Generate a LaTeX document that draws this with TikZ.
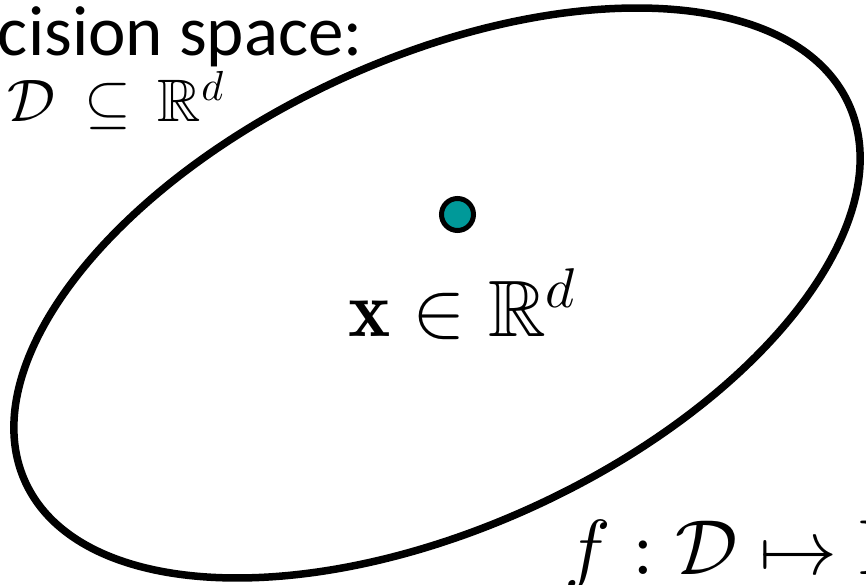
\documentclass[tikz,border=0pt]{standalone}
\usepackage{amsmath,amssymb}
\usepackage{fontspec}
\newfontfamily\labelfont{Carlito}
\usetikzlibrary{positioning}
\DeclareFontShape{OT1}{cmr}{m}{n}{<->cmr10}{}
\DeclareFontShape{OT1}{cmr}{bx}{n}{<->cmbx10}{}
\DeclareFontShape{OML}{cmm}{m}{it}{<->cmmi10}{}
\DeclareFontShape{OML}{cmm}{b}{it}{<->cmmib10}{}
\DeclareFontShape{OMS}{cmsy}{m}{n}{<->cmsy10}{}
\DeclareFontShape{OMS}{cmsy}{b}{n}{<->cmbsy10}{}
\DeclareFontShape{OMX}{cmex}{m}{n}{<->cmex10}{}
\definecolor{c1}{HTML}{000000}
\definecolor{c2}{HTML}{009999}

\begin{document}
\begin{tikzpicture}[
    x=1pt, y=1pt,
    every node/.style={inner sep=0pt, outer sep=0pt},
    lab/.style={font=\labelfont\fontsize{71}{85}\selectfont, text=c1},
    setlab/.style={font=\fontsize{60}{72}\selectfont, text=c1},
    ptlab/.style={font=\fontsize{80}{96}\selectfont, text=c1},
    maplab/.style={font=\fontsize{78}{94}\selectfont, text=c1},
    dot/.style={circle, draw=c1, fill=c2, line width=5pt, minimum size=32pt},
]

\useasboundingbox (0, 0) rectangle (866, 585);
\clip (0, 0) rectangle (866, 585);

% ---------------------------------------------------------------- the set
\coordinate (centre) at (437, 292);
\draw[c1, line width=7.5pt, rotate around={24.7:(centre)}]
    (centre) ellipse [x radius=453pt, y radius=234.5pt];

% ---------------------------------------------------------------- labels
\node[lab, anchor=base west] (title) at (-2, 529) {cision space:};
\node[setlab, anchor=base west] (domain) at (8, 463)
    {$\mathcal{D}\hspace{12pt}\subseteq\hspace{10pt}\mathbb{R}^d$};

% ---------------------------------------------------------------- the point
\node[dot] (point) at (457.5, 370.5) {};
\node[ptlab, anchor=base west] (pointlabel) at (348, 248)
    {$\mathbf{x}\in\mathbb{R}^d$};

% ---------------------------------------------------------------- the map
\node[maplab, anchor=base west] (mapping) at (564, 10)
    {$f:\mathcal{D}\mapsto\mathbb{R}$};

\end{tikzpicture}
\end{document}
